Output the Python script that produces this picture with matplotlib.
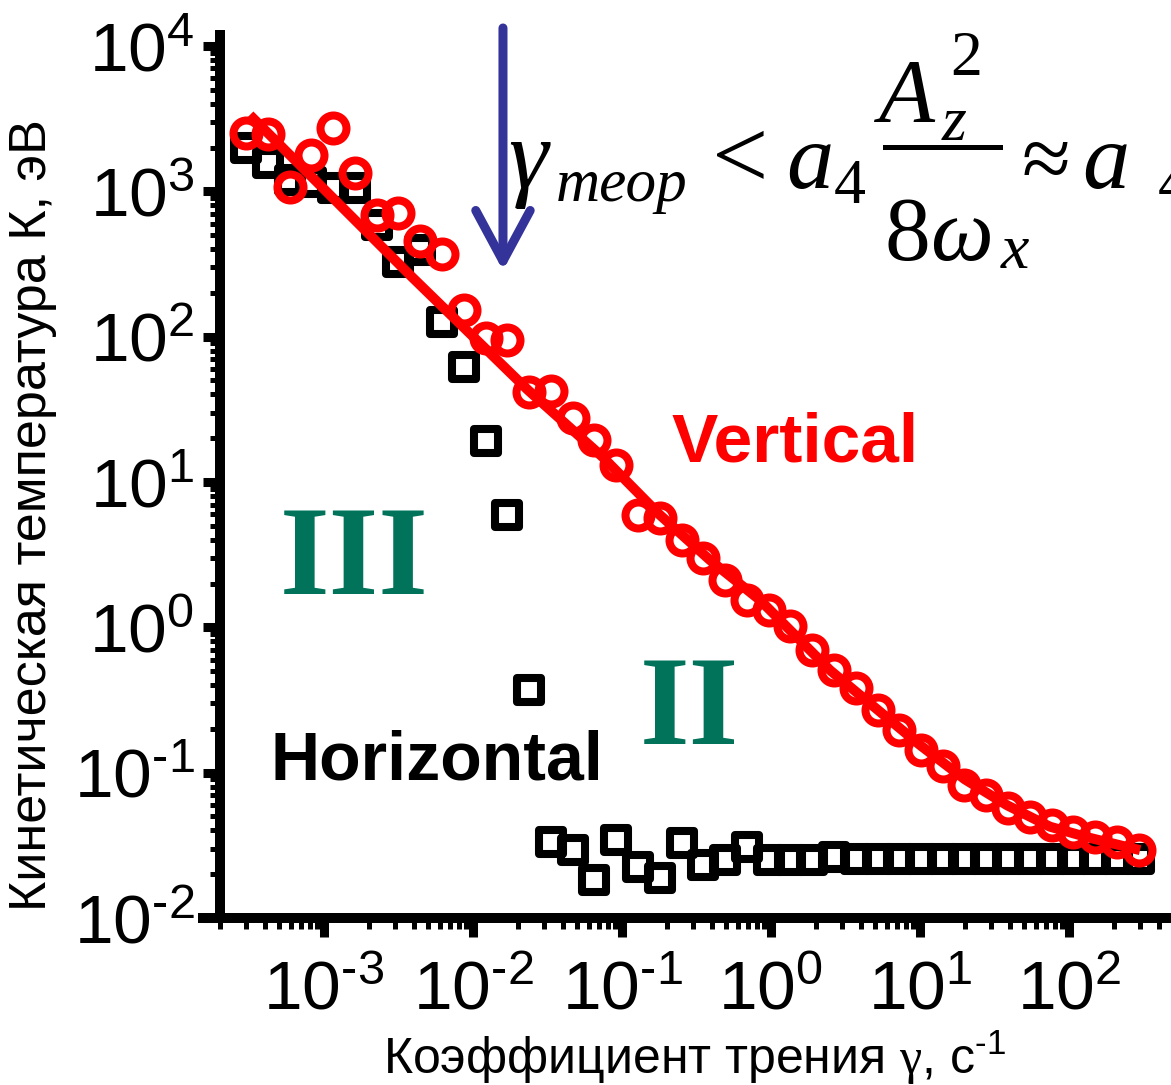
import matplotlib
matplotlib.use('Agg')
import matplotlib.pyplot as plt
from matplotlib.lines import Line2D
from matplotlib.markers import MarkerStyle
from matplotlib.ticker import FixedLocator, FixedFormatter, LogLocator, NullFormatter

plt.rcParams['font.family'] = ['Liberation Sans', 'DejaVu Sans']
plt.rcParams['mathtext.fontset'] = 'custom'
plt.rcParams['mathtext.rm'] = 'Liberation Serif'
plt.rcParams['mathtext.it'] = 'Liberation Serif:italic'
plt.rcParams['mathtext.bf'] = 'Liberation Serif:bold'

# ---- data ----
gamma = [3.00e-4, 4.20e-4, 5.88e-4, 8.23e-4, 1.15e-3, 1.61e-3, 2.26e-3, 3.16e-3,
         4.43e-3, 6.20e-3, 8.68e-3, 1.22e-2, 1.70e-2, 2.38e-2, 3.33e-2, 4.67e-2,
         6.53e-2, 9.15e-2, 0.128, 0.179, 0.251, 0.351, 0.492, 0.689, 0.964, 1.35,
         1.89, 2.65, 3.70, 5.19, 7.26, 10.2, 14.2, 19.9, 27.9, 39.0, 54.7, 76.5,
         107.0, 150.0, 210.0, 294.0]

k_vertical = [2518, 2480, 1072, 1778, 2728, 1336, 687, 709, 455, 370, 152, 97.8,
              94.8, 41.6, 42.0, 27.5, 19.4, 13.1, 5.9, 5.64, 3.98, 2.99, 2.11, 1.54,
              1.31, 1.02, 0.697, 0.507, 0.382, 0.269, 0.196, 0.143, 0.111, 0.082,
              0.070, 0.057, 0.0494, 0.0435, 0.0389, 0.0360, 0.0333, 0.0293]

k_horizontal = [1986, 1566, 1197, 1150, 1054, 1054, 586, 326, 394, 126, 61.8, 19.1,
                5.92, 0.370, 0.0333, 0.0293, 0.0182, 0.0343, 0.0224, 0.0188, 0.0327,
                0.0231, 0.0250, 0.0307, 0.0250, 0.0250, 0.0250, 0.0262, 0.0256, 0.0256,
                0.0256, 0.0256, 0.0256, 0.0256, 0.0256, 0.0256, 0.0256, 0.0256, 0.0256,
                0.0256, 0.0256, 0.0256]

fit_gamma = [3.18e-4, 3.90e-3, 2.34e-2, 7.45e-2, 0.180, 0.390, 0.844, 2.49, 10.0,
             20.0, 38.4, 74.5, 132.0, 300.0]
fit_k = [3350, 257, 42.9, 14.8, 5.92, 2.90, 1.54, 0.507, 0.155, 0.090, 0.0597,
         0.0425, 0.0360, 0.0293]

HY = '\u2010'
xticks = [1e-3, 1e-2, 1e-1, 1e0, 1e1, 1e2]
xticklabels = [r'$\mathregular{10^{%s3}}$' % HY, r'$\mathregular{10^{%s2}}$' % HY,
               r'$\mathregular{10^{%s1}}$' % HY, r'$\mathregular{10^{0}}$',
               r'$\mathregular{10^{1}}$', r'$\mathregular{10^{2}}$']
yticks = [1e-2, 1e-1, 1e0, 1e1, 1e2, 1e3, 1e4]
yticklabels = [r'$\mathregular{10^{%s2}}$' % HY, r'$\mathregular{10^{%s1}}$' % HY,
               r'$\mathregular{10^{0}}$', r'$\mathregular{10^{1}}$', r'$\mathregular{10^{2}}$',
               r'$\mathregular{10^{3}}$', r'$\mathregular{10^{4}}$']

arrow_gamma = 0.0159
arrow_tip_k = 285
arrow_tail_k = 13300

W, H = 1171, 1085
fig = plt.figure(figsize=(W / 100, H / 100), dpi=100)
ax = fig.add_axes([203 / W, (H - 918) / H, (W - 203) / W, (918 - 35) / H])
ax.set_xscale('log')
ax.set_yscale('log')
ax.set_xlim(1.542e-4, 484)
ax.set_ylim(1e-2, 11900)

sq = MarkerStyle('s', joinstyle='round')
ax.plot(gamma, k_horizontal, linestyle='none', marker=sq, ms=16.6, mew=5.8,
        mec='black', mfc='none', zorder=3, clip_on=False)
ax.plot(gamma, k_vertical, linestyle='none', marker='o', ms=18.7, mew=5.8,
        mec='#ff0000', mfc='none', zorder=4, clip_on=False)
ax.plot(fit_gamma, fit_k, color='#ff0000', lw=7.2, solid_capstyle='butt', zorder=5)

for s in ['top', 'right']:
    ax.spines[s].set_visible(False)
ax.spines['left'].set_position(('data', 2.0e-4))
ax.spines['left'].set_linewidth(7.2)
ax.spines['bottom'].set_linewidth(7.2)

ax.xaxis.set_major_locator(FixedLocator(xticks))
ax.xaxis.set_major_formatter(FixedFormatter(xticklabels))
ax.yaxis.set_major_locator(FixedLocator(yticks))
ax.yaxis.set_major_formatter(FixedFormatter(yticklabels))
ax.xaxis.set_minor_locator(LogLocator(base=10, subs=range(2, 10), numticks=30))
ax.yaxis.set_minor_locator(LogLocator(base=10, subs=range(2, 10), numticks=30))
ax.xaxis.set_minor_formatter(NullFormatter())
ax.yaxis.set_minor_formatter(NullFormatter())
ax.tick_params(axis='both', which='major', direction='out', width=6.5, labelsize=50)
ax.tick_params(axis='x', which='major', length=13.7, pad=16)
ax.tick_params(axis='y', which='major', length=12.2, pad=6)
ax.tick_params(axis='both', which='minor', direction='out', width=3.6)
ax.tick_params(axis='x', which='minor', length=8)
ax.tick_params(axis='y', which='minor', length=7.2)

fig.text(33 / W, 1 - 515 / H, 'Кинетическая температура К, эВ', rotation=90,
         ha='center', va='center', fontsize=37.5)
fig.text(695 / W, 1 - 1058 / H,
         r'Коэффициент трения $\mathrm{\gamma}$, с$\mathregular{^{%s1}}$' % HY,
         ha='center', va='center', fontsize=36)

ax.annotate('', xy=(arrow_gamma, arrow_tip_k), xytext=(arrow_gamma, arrow_tail_k),
            xycoords='data', textcoords='data', annotation_clip=False,
            arrowprops=dict(arrowstyle='->,head_length=2.6,head_width=1.4', mutation_scale=14,
                            lw=6.5, color='#333399', shrinkA=0, shrinkB=0))


def ftxt(x, y, s, size, italic=True):
    fig.text(x / W, 1 - y / H, s, ha='left', va='baseline', fontsize=size,
             family='Liberation Serif', style='italic' if italic else 'normal', color='black')


B = 188
ftxt(508, B, 'γ', 72)
ftxt(556, 201, 'теор', 44)
ftxt(712, B, '<', 72, italic=False)
ftxt(786, B, 'a', 68)
ftxt(834, 203, '4', 46, italic=False)
ftxt(878, 122, 'A', 66)
ftxt(942, 140, 'z', 46)
ftxt(950, 75, '2', 46, italic=False)
fig.add_artist(Line2D([885 / W, 1000 / W], [1 - 147 / H, 1 - 147 / H], color='black', lw=3.6))
ftxt(884, 260, '8', 66, italic=False)
ftxt(930, 260, 'ω', 64)
ftxt(1001, 268, 'x', 46)
ftxt(1022, B, '≈', 64, italic=False)
ftxt(1082, B, 'a', 68)
ftxt(1158, 203, '4', 46, italic=False)

fig.text(795 / W, 1 - 443 / H, 'Vertical', color='#ff0000', fontsize=50,
         fontweight='bold', ha='center', va='center')
fig.text(437 / W, 1 - 762 / H, 'Horizontal', color='black', fontsize=49,
         fontweight='bold', ha='center', va='center')
fig.text(354 / W, 1 - 563 / H, 'III', color='#00735a', fontsize=92, family='Liberation Serif',
         fontweight='bold', ha='center', va='center')
fig.text(689 / W, 1 - 713 / H, 'II', color='#00735a', fontsize=92, family='Liberation Serif',
         fontweight='bold', ha='center', va='center')

fig.savefig('out.png', dpi=100)
